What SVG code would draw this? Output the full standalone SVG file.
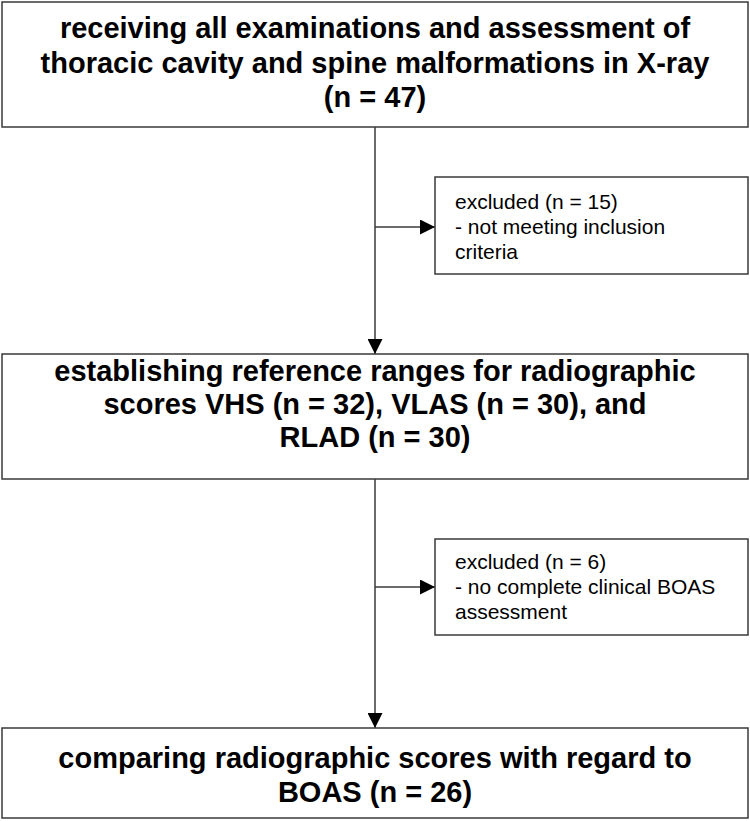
<svg xmlns="http://www.w3.org/2000/svg" width="750" height="821" viewBox="0 0 750 821">
<style>
.box{fill:#fff;stroke:#3a3a3a;stroke-width:1.5}
.main{font-family:"Liberation Sans",Arial,sans-serif;font-weight:bold;font-size:29px;fill:#000;text-anchor:middle}
.side{font-family:"Liberation Sans",Arial,sans-serif;font-size:21px;fill:#000}
.conn{stroke:#3a3a3a;stroke-width:1.5;fill:none}
</style>
<defs>
<marker id="arr" viewBox="0 0 10 10" refX="10" refY="5" markerWidth="16" markerHeight="15" markerUnits="userSpaceOnUse" orient="auto">
<path d="M0,0 L10,5 L0,10 Z" fill="#000"/>
</marker>
</defs>
<g id="connectors">
<path class="conn" d="M375,127 V354" marker-end="url(#arr)"/>
<path class="conn" d="M375,227 H435" marker-end="url(#arr)"/>
<path class="conn" d="M375,479 V728" marker-end="url(#arr)"/>
<path class="conn" d="M375,587 H435" marker-end="url(#arr)"/>
</g>
<g id="node1">
<rect class="box" x="2" y="2" width="746" height="125"/>
<text class="main" x="375" y="38">receiving all examinations and assessment of</text>
<text class="main" x="375" y="72.5">thoracic cavity and spine malformations in X-ray</text>
<text class="main" x="375" y="107">(n = 47)</text>
</g>
<g id="excluded1">
<rect class="box" x="435" y="177" width="313" height="97"/>
<text class="side" x="455" y="209">excluded (n = 15)</text>
<text class="side" x="455" y="234">- not meeting inclusion</text>
<text class="side" x="455" y="259">criteria</text>
</g>
<g id="node2">
<rect class="box" x="2" y="354" width="746" height="125"/>
<text class="main" x="375" y="381">establishing reference ranges for radiographic</text>
<text class="main" x="375" y="414">scores VHS (n = 32), VLAS (n = 30), and</text>
<text class="main" x="375" y="447">RLAD (n = 30)</text>
</g>
<g id="excluded2">
<rect class="box" x="435" y="539" width="313" height="96"/>
<text class="side" x="455" y="569">excluded (n = 6)</text>
<text class="side" x="455" y="594">- no complete clinical BOAS</text>
<text class="side" x="455" y="619">assessment</text>
</g>
<g id="node3">
<rect class="box" x="2" y="728" width="746" height="90"/>
<text class="main" x="375" y="768">comparing radiographic scores with regard to</text>
<text class="main" x="375" y="802">BOAS (n = 26)</text>
</g>
</svg>
